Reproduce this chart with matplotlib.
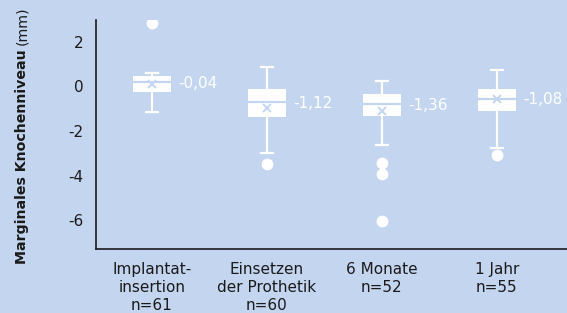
import matplotlib
matplotlib.use("Agg")
import matplotlib.pyplot as plt

# ---- data ----
categories = ["Implantat-\ninsertion\nn=61", "Einsetzen\nder Prothetik\nn=60", "6 Monate\nn=52", "1 Jahr\nn=55"]
whisker_low = [-1.16, -3.01, -2.65, -2.76]
q1 = [-0.24, -1.39, -1.32, -1.09]
medians = [0.22, -0.71, -0.79, -0.57]
q3 = [0.48, -0.13, -0.36, -0.13]
whisker_high = [0.62, 0.87, 0.26, 0.74]
means = [0.11, -0.96, -1.09, -0.57]
outliers = [[2.84], [-3.47], [-3.43, -3.94, -6.02], [-3.07]]
value_labels = ["-0,04", "-1,12", "-1,36", "-1,08"]
yticks = [2, 0, -2, -4, -6]

BG = "#C4D5EF"
FONT = "DejaVu Sans"
FS = 11
plt.rcParams["font.family"] = [FONT]

W, H = 567, 313
fig = plt.figure(figsize=(W / 100, H / 100), dpi=100)
fig.patch.set_facecolor(BG)
ax = fig.add_axes([96 / W, (H - 249.3) / H, 1 - 96 / W, (249.3 - 20) / H])
ax.set_facecolor(BG)

positions = list(range(1, len(categories) + 1))
stats = []
for i in range(len(categories)):
    stats.append(dict(med=medians[i], q1=q1[i], q3=q3[i], whislo=whisker_low[i],
                      whishi=whisker_high[i], mean=means[i], fliers=outliers[i]))

ax.bxp(stats, positions=positions, widths=0.33, capwidths=0.105, showmeans=True,
       patch_artist=True,
       boxprops=dict(facecolor="white", edgecolor="white", linewidth=0),
       medianprops=dict(color=BG, linewidth=1.6),
       whiskerprops=dict(color="white", linewidth=1.6),
       capprops=dict(color="white", linewidth=1.6),
       meanprops=dict(marker="x", markeredgecolor=BG, markersize=6, markeredgewidth=1.4),
       flierprops=dict(marker="o", markerfacecolor="white", markeredgecolor="white", markersize=7.5))

for i, p in enumerate(positions):
    ax.annotate(value_labels[i], xy=(p + 0.165, (q1[i] + q3[i]) / 2), xytext=(5, 0),
                textcoords="offset points", ha="left", va="center", color="white", fontsize=FS)

ax.set_xlim(0.513, 4.61)
ax.set_ylim(-7.31, 2.98)
ax.set_yticks(yticks)
ax.set_yticklabels([str(t) for t in yticks])
ax.set_xticks(positions)
ax.set_xticklabels(categories, linespacing=1.25)
ax.tick_params(axis="both", length=0, labelsize=FS, colors="#1a1a1a")
ax.tick_params(axis="y", pad=9)
ax.tick_params(axis="x", pad=9.5)
for s in ["top", "right"]:
    ax.spines[s].set_visible(False)
for s in ["left", "bottom"]:
    ax.spines[s].set_color("#1a1a1a")
    ax.spines[s].set_linewidth(1.2)

# y label: bold part + regular part
fig.canvas.draw()
r = fig.canvas.get_renderer()
YFS = 10.2
t1 = fig.text(22 / W, (H - 264) / H, "Marginales Knochenniveau", rotation=90, ha="center",
              va="bottom", fontsize=YFS, fontweight="bold", color="#1a1a1a")
bb = t1.get_window_extent(r)
fig.text(22 / W, (bb.y1 + 4) / H, "(mm)", rotation=90, ha="center", va="bottom",
         fontsize=YFS, color="#1a1a1a")

fig.savefig("out.png", dpi=100, facecolor=BG)
